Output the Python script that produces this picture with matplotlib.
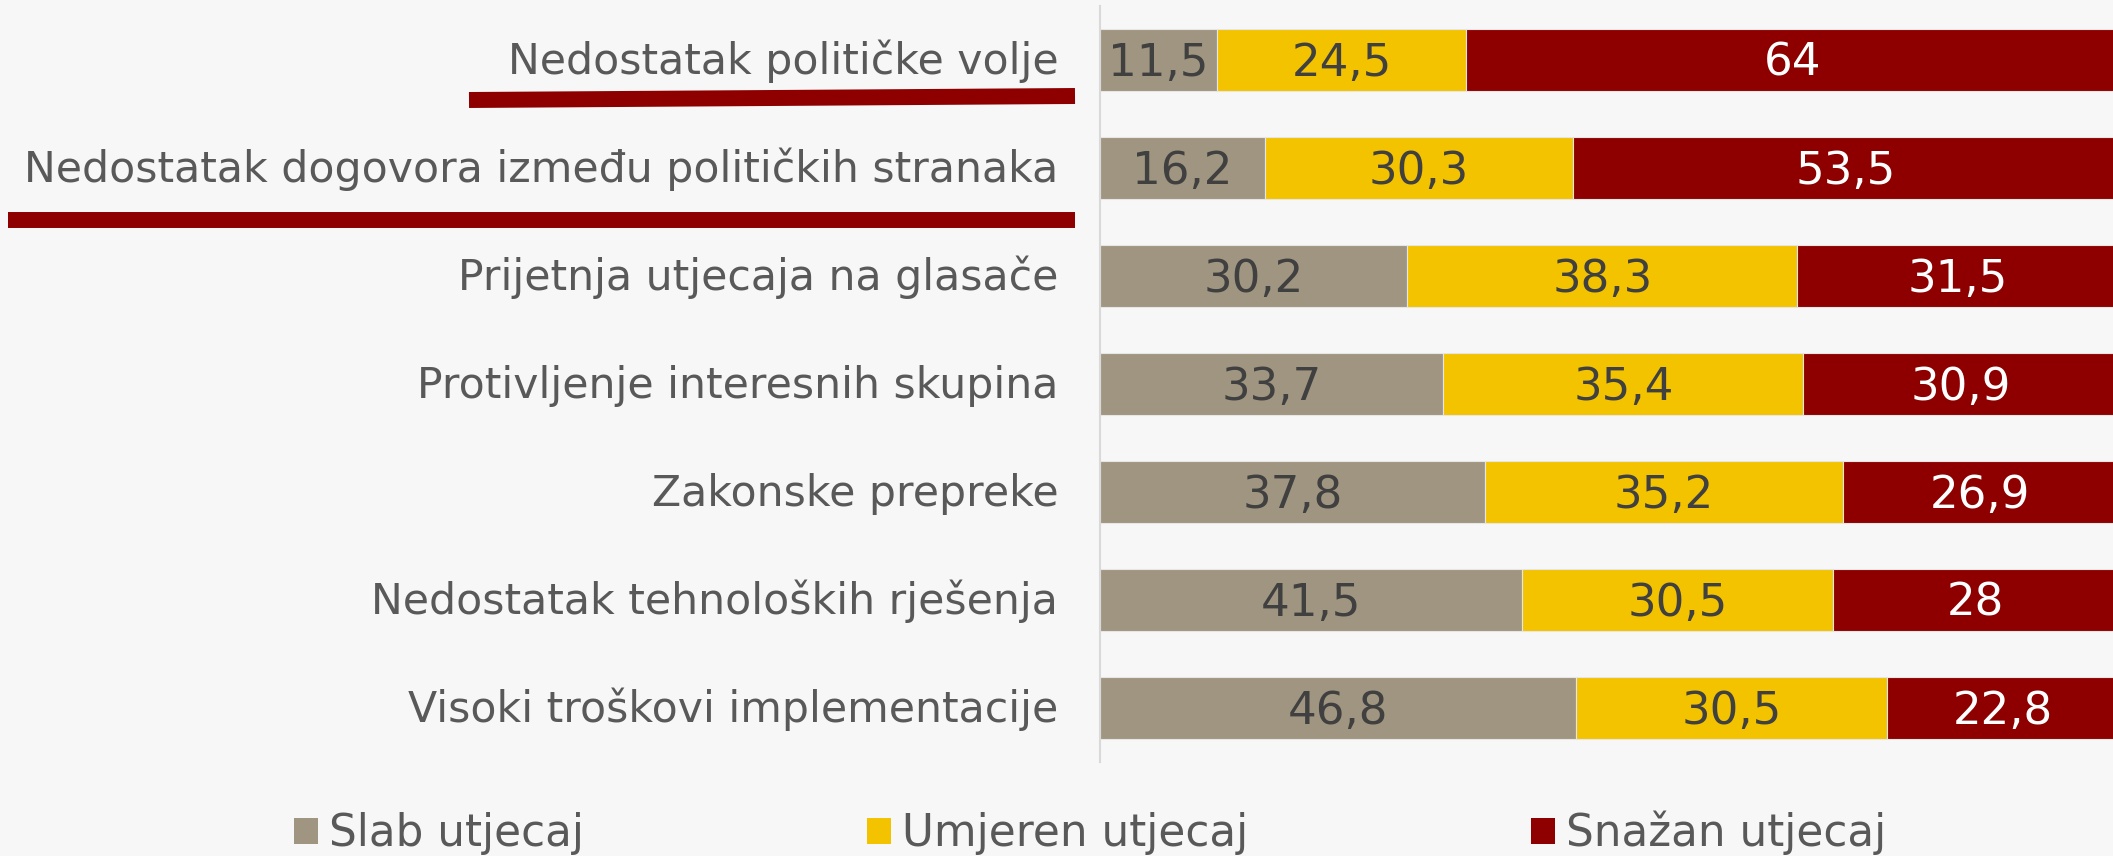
import matplotlib
matplotlib.use("Agg")
import matplotlib.pyplot as plt
import matplotlib.transforms as mtransforms
from matplotlib.lines import Line2D

# ------------------------------
# Data
# ------------------------------
categories = [
    "Nedostatak političke volje",
    "Nedostatak dogovora između političkih stranaka",
    "Prijetnja utjecaja na glasače",
    "Protivljenje interesnih skupina",
    "Zakonske prepreke",
    "Nedostatak tehnoloških rješenja",
    "Visoki troškovi implementacije",
]
slab = [11.5, 16.2, 30.2, 33.7, 37.8, 41.5, 46.8]
umjeren = [24.5, 30.3, 38.3, 35.4, 35.2, 30.5, 30.5]
snazan = [64, 53.5, 31.5, 30.9, 26.9, 28, 22.8]
series_names = ["Slab utjecaj", "Umjeren utjecaj", "Snažan utjecaj"]

colors = ["#A09580", "#F3C300", "#8E0000"]
text_colors = ["#404040", "#404040", "white"]
bg = "#F7F7F7"

W, H = 2113, 856
fig = plt.figure(figsize=(W / 100, H / 100), dpi=100, facecolor=bg)
ax = fig.add_axes([1100 / W, (H - 762) / H, 1018 / W, 756 / H])
ax.set_facecolor(bg)

y = list(range(len(categories)))
left = [0] * len(categories)
for vals, col, tcol, name in zip([slab, umjeren, snazan], colors, text_colors, series_names):
    bars = ax.barh(y, vals, left=left, height=0.565, color=col,
                   edgecolor="#E6E6E6", linewidth=0.8, label=name)
    for b, v in zip(bars, vals):
        txt = f"{v:g}".replace(".", ",")
        ax.text(b.get_x() + b.get_width() / 2, b.get_y() + b.get_height() / 2 + 0.03,
                txt, ha="center", va="center", color=tcol, fontsize=32.5)
    left = [l + v for l, v in zip(left, vals)]

ax.set_xlim(0, 100)
ax.set_ylim(len(categories) - 0.5, -0.5)
ax.set_yticks(y)
ax.set_yticklabels(categories, fontsize=30.7, color="#595959")
ax.tick_params(axis="y", length=0, pad=30)
# nudge the category labels up a little
shift = mtransforms.ScaledTranslation(0, 3 / 100, fig.dpi_scale_trans)
for lbl in ax.get_yticklabels():
    lbl.set_transform(lbl.get_transform() + shift)
ax.set_xticks([])
for s in ["top", "right", "bottom"]:
    ax.spines[s].set_visible(False)
ax.spines["left"].set_color("#D9D9D9")
ax.spines["left"].set_linewidth(1.5)

# red underlines under the two top labels
fig.add_artist(Line2D([469 / W, 1075 / W], [1 - 100 / H, 1 - 96 / H],
                      color="#8E0000", linewidth=11.5, solid_capstyle="butt"))
fig.add_artist(Line2D([8 / W, 1075 / W], [1 - 220 / H, 1 - 220 / H],
                      color="#8E0000", linewidth=11.5, solid_capstyle="butt"))

# legend
leg = fig.legend(loc="center left", bbox_to_anchor=(294 / W, 1 - 833 / H), ncol=3,
                 frameon=False, fontsize=31.5, handlelength=0.55, handleheight=0.55,
                 handletextpad=0.25, columnspacing=6.47, borderaxespad=0, borderpad=0)
for t in leg.get_texts():
    t.set_color("#595959")
for h in leg.legend_handles:
    h.set_edgecolor("none")

fig.savefig("out.png", dpi=100, facecolor=bg)
